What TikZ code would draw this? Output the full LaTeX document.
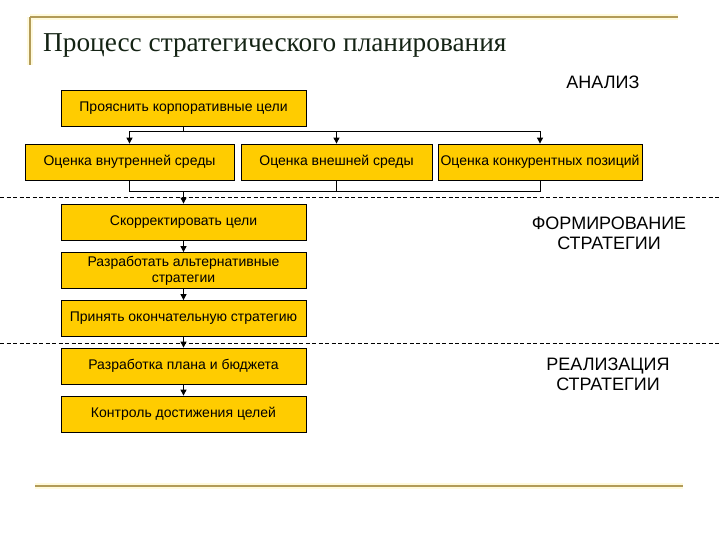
\documentclass[tikz,border=0pt]{standalone}
\usepackage{fontspec}
\setmainfont{Liberation Sans}
\newfontfamily\titlefont{Liberation Serif}
\usetikzlibrary{arrows.meta}
\definecolor{boxyellow}{RGB}{255,204,0}
\definecolor{rule}{RGB}{178,155,88}
\definecolor{glow}{RGB}{255,250,220}
\tikzset{
  stagebox/.style={draw=black, line width=0.8pt, fill=boxyellow, inner sep=1pt,
    font=\fontsize{14}{16}\selectfont, align=center},
  conn/.style={draw=black, line width=1pt},
  arr/.style={conn, -{Triangle[length=6pt,width=6pt]}},
  phase/.style={font=\fontsize{18}{20}\selectfont, anchor=base, align=center},
  sep/.style={draw=black, line width=0.6pt, dash pattern=on 4pt off 2.5pt},
  rulel/.style={draw=rule, line width=2pt},
  glowl/.style={draw=glow, line width=6pt}
}
\begin{document}
\begin{tikzpicture}[x=1pt,y=-1pt]
\useasboundingbox (0,0) rectangle (720,540);
% frame lines
\draw[glowl] (30,17) -- (678,17);
\draw[glowl] (30,17) -- (30,65);
\draw[glowl] (35,486) -- (683,486);
\draw[rulel] (30,17) -- (678,17);
\draw[rulel] (30,17) -- (30,65);
\draw[rulel] (35,486) -- (683,486);
% title
\node[anchor=base west, inner sep=0pt, font=\titlefont\fontsize{27.3}{30}\selectfont, text={rgb,255:red,20;green,35;blue,20}] (title) at (43,52) {Процесс стратегического планирования};
% phase labels
\node[phase] (ph1) at (603,89) {АНАЛИЗ};
\node[phase] (ph2) at (609,249) {ФОРМИРОВАНИЕ\\[0pt]СТРАТЕГИИ};
\node[phase] (ph3) at (608,390) {РЕАЛИЗАЦИЯ\\[0pt]СТРАТЕГИИ};
% separators
\draw[sep] (0,197) -- (720,197);
\draw[sep] (0,343) -- (720,343);
% boxes
\node[stagebox, minimum width=245pt, minimum height=36pt] (p) at (183.5,108.5) {Прояснить корпоративные цели};
\node[stagebox, minimum width=209pt, minimum height=36pt] (a) at (129.5,162) {Оценка внутренней среды};
\node[stagebox, minimum width=191pt, minimum height=36pt] (b) at (336.5,162) {Оценка внешней среды};
\node[stagebox, minimum width=204pt, minimum height=36pt] (c) at (540,162) {Оценка конкурентных позиций};
\node[stagebox, minimum width=245pt, minimum height=36pt] (s1) at (183.5,222) {Скорректировать цели};
\node[stagebox, minimum width=245pt, minimum height=36pt] (s2) at (183.5,270.5) {Разработать альтернативные\\стратегии};
\node[stagebox, minimum width=245pt, minimum height=36pt] (s3) at (183.5,318.5) {Принять окончательную стратегию};
\node[stagebox, minimum width=245pt, minimum height=36pt] (s4) at (183.5,366) {Разработка плана и бюджета};
\node[stagebox, minimum width=245pt, minimum height=36pt] (s5) at (183.5,414) {Контроль достижения целей};
% connectors
\coordinate (j1) at (183.5,132);
\coordinate (j2) at (183.5,192);
\draw[conn] (p.south) -- (j1);
\draw[arr] (j1) -| (a.north);
\draw[arr] (j1) -| (b.north);
\draw[arr] (j1) -| (c.north);
\draw[conn] (a.south) |- (j2);
\draw[conn] (b.south) |- (j2);
\draw[conn] (c.south) |- (j2);
\draw[arr] (j2) -- (s1.north);
\draw[arr] (s1.south) -- (s2.north);
\draw[arr] (s2.south) -- (s3.north);
\draw[arr] (s3.south) -- (s4.north);
\draw[arr] (s4.south) -- (s5.north);
\end{tikzpicture}
\end{document}
